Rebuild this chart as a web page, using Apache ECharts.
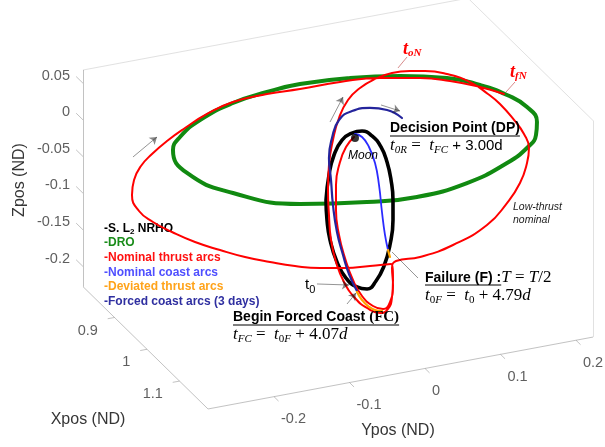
<!DOCTYPE html>
<html><head><meta charset="utf-8">
<script src="https://cdn.jsdelivr.net/npm/echarts@6/dist/echarts.min.js"></script>
<style>html,body{margin:0;padding:0;background:#fff}#c{width:605px;height:447px}</style>
</head><body><div id="c"></div>
<script>
// ---- axis limits and ticks (ND) ----
const xLim = [0.803, 1.1877];
const yLim = [-0.2874, 0.2225];
const zLim = [-0.2275, 0.068];
const xTicks = [0.9, 1, 1.1];
const yTicks = [-0.2, -0.1, 0, 0.1, 0.2];
const zTicks = [0.05, 0, -0.05, -0.1, -0.15, -0.2];

// ---- trajectories: [Ypos, Zpos] read in the Xpos = 1 plane ----
const nrho = [[-0.0503,-0.0694],[-0.0464,-0.0361],[-0.0397,-0.0101],[-0.0291,0.0083],[-0.0159,0.0153],[-0.0026,0.0155],[0.0106,0.0062],[0.0225,-0.0111],[0.0305,-0.0332],[0.0358,-0.0587],[0.0384,-0.0865],[0.0384,-0.1138],[0.0344,-0.1471],[0.0265,-0.1743],[0.0159,-0.1927],[0.0040,-0.2013],[-0.0093,-0.1960],[-0.0238,-0.1810],[-0.0358,-0.1568],[-0.0450,-0.1250],[-0.0490,-0.0970],[-0.0503,-0.0694]];
const dro = [[-0.0185,0.0909],[0.0477,0.0809],[0.1099,0.0662],[0.1536,0.0482],[0.1894,0.0277],[0.2159,0.0062],[0.2291,-0.0168],[0.2278,-0.0343],[0.2172,-0.0486],[0.1894,-0.0651],[0.1364,-0.0822],[0.0702,-0.0885],[0.0040,-0.0826],[-0.0848,-0.0683],[-0.1735,-0.0362],[-0.2344,0.0028],[-0.2530,0.0377],[-0.2437,0.0537],[-0.2172,0.0718],[-0.1735,0.0866],[-0.1285,0.0929],[-0.0848,0.0954],[-0.0185,0.0909]];
const nominalThrust = [[-0.0132,0.0094],[-0.0238,-0.0022],[-0.0318,-0.0212],[-0.0371,-0.0515],[-0.0371,-0.0856],[-0.0331,-0.1205],[-0.0252,-0.1534],[-0.0146,-0.1855],[-0.0026,-0.2096],[0.0119,-0.2260],[0.0252,-0.2327],[0.0344,-0.2249],[0.0384,-0.2025],[0.0371,-0.1790],[0.0424,-0.1705],[0.0742,-0.1712],[0.1179,-0.1632],[0.1629,-0.1446],[0.1894,-0.1197],[0.2066,-0.0957],[0.2159,-0.0702],[0.2185,-0.0502],[0.2119,-0.0298],[0.1987,-0.0082],[0.1801,0.0172],[0.1642,0.0339],[0.1404,0.0548],[0.1099,0.0716],[0.0808,0.0813],[0.0609,0.0851],[0.0371,0.0870],[0.0146,0.0832],[-0.0053,0.0747],[-0.0212,0.0614],[-0.0331,0.0391],[-0.0411,0.0106],[-0.0464,-0.0225],[-0.0477,-0.0563],[-0.0464,-0.0907],[-0.0437,-0.1253],[-0.0371,-0.1566],[-0.0265,-0.1859],[-0.0119,-0.2105],[0.0040,-0.2272],[0.0212,-0.2374],[0.0318,-0.2339],[0.0371,-0.2186],[0.0384,-0.1957],[0.0358,-0.1733],[0.0079,-0.1707],[-0.0252,-0.1671],[-0.0583,-0.1607],[-0.0914,-0.1516],[-0.1245,-0.1398],[-0.1576,-0.1266],[-0.1907,-0.1107],[-0.2238,-0.0934],[-0.2543,-0.0739],[-0.2795,-0.0554],[-0.2980,-0.0368],[-0.3073,-0.0132],[-0.3046,0.0068],[-0.2954,0.0241],[-0.2808,0.0376],[-0.2609,0.0516],[-0.2371,0.0647],[-0.2079,0.0782],[-0.1735,0.0879],[-0.1285,0.0902],[-0.0848,0.0886],[-0.0318,0.0880],[0.0212,0.0832],[0.0742,0.0730],[0.1139,0.0613],[0.1536,0.0455],[0.1854,0.0298]];
const nominalCoast = [[-0.0119,0.0132],[-0.0026,0.0073],[0.0066,-0.0081],[0.0146,-0.0314],[0.0199,-0.0625],[0.0238,-0.1001],[0.0278,-0.1322],[0.0318,-0.1535]];
const deviatedA = [[0.0318,-0.1535],[0.0344,-0.1635]];
const deviatedB = [[-0.0093,-0.2028],[-0.0026,-0.2150],[0.0053,-0.2248],[0.0146,-0.2320],[0.0238,-0.2351]];
const forcedCoast = [[-0.0093,-0.2015],[-0.0199,-0.1763],[-0.0278,-0.1488],[-0.0358,-0.1159],[-0.0411,-0.0780],[-0.0437,-0.0434],[-0.0464,-0.0129],[-0.0424,0.0136],[-0.0331,0.0364],[-0.0159,0.0453],[0.0079,0.0449],[0.0305,0.0378],[0.0503,0.0231]];
const moon = [[-0.0119,0.0077]];

// annotation arrows [from, to] as [Ypos, Zpos] in the same plane
const dirArrows = [[[-0.3060,0.0384],[-0.2742,0.0596]],[[-0.0450,0.0359],[-0.0278,0.0667]],[[0.0225,0.0462],[0.0477,0.0331]],[[-0.0623,-0.1817],[-0.0199,-0.1913]],[[-0.0225,-0.2167],[-0.0106,-0.2040]]];
const failureLeader = [[[0.0715,-0.1993],[0.0371,-0.1572]]];
const redLeaders = [[[0.0570,0.1050],[0.0450,0.0923]],[[0.2000,0.0434],[0.1881,0.0320]]];

// ---- view projection (azimuth/elevation of the 3-D axes) ----
const view = {ox:364, oy:142, ex:[325,318], ey:[755,-141], ez:[0,-733]};
function P(x,y,z){
  return [view.ox + (x-1)*view.ex[0] + y*view.ey[0] + z*view.ez[0],
          view.oy + (x-1)*view.ex[1] + y*view.ey[1] + z*view.ez[1]];
}
const X0 = 1;
const plane = arr => arr.map(([y,z]) => P(X0,y,z));
const segs = arr => arr.map(s => ({coords: plane(s)}));

const [x0,x1] = xLim, [y0,y1] = yLim, [z0,z1] = zLim;
const axisSegs = [[P(x0,y0,z0),P(x0,y0,z1)],[P(x0,y0,z0),P(x1,y0,z0)],[P(x1,y0,z0),P(x1,y1,z0)]];
const boxSegs = [[P(x1,y1,z0),P(x1,y1,z1)],[P(x0,y0,z1),P(x0,y1,z1)],[P(x1,y1,z1),P(x0,y1,z1)]];
const tickSegs = [].concat(
  zTicks.map(z => [P(x0,y0,z), P(x0-0.021,y0,z)]),
  xTicks.map(x => [P(x,y0,z0), P(x,y0-0.009,z0)]),
  yTicks.map(y => [P(x1,y,z0), P(x1+0.014,y,z0)])
);
const zLab = zTicks.map(z => ({value:P(x0-0.04,y0,z), name:String(z)}));
const xLab = xTicks.map(x => ({value:P(x,y0-0.022,z0), name:String(x)}));
const yLab = yTicks.map(y => ({value:P(x1+0.0215,y,z0), name:String(y)}));

const SANS = '"Liberation Sans", Arial, Helvetica, sans-serif';
const SERIF = '"Liberation Serif", "Times New Roman", serif';
const TICKC = '#363636';

function tickLabels(data, align, offset){
  return {type:'scatter', data, symbolSize:0, silent:true, z:5,
    label:{show:true, position:'inside', formatter:'{b}', align, verticalAlign:'middle', offset,
      fontFamily:SANS, fontSize:14.5, color:TICKC}};
}
function curve(name, data, color, width, z){
  return {type:'line', name, data:plane(data), symbol:'none', smooth:0.5, z, silent:true,
    lineStyle:{color, width, cap:'round', join:'round'}, itemStyle:{color}};
}
const C = {black:'#000000', green:'#118a11', red:'#ff0000', blue:'#2b2bff', orange:'#ffa500', navy:'#24249c'};

const meas = document.createElement('canvas').getContext('2d');
function tw(font, s){ meas.font = font; return meas.measureText(s).width; }
const BOLD14 = 'bold 14px ' + SANS;

const mathRich = {
  m:{fontFamily:SERIF, fontStyle:'italic', fontSize:17, lineHeight:20, verticalAlign:'middle', fill:'#000', color:'#000'},
  r:{fontFamily:SERIF, fontSize:17, lineHeight:20, verticalAlign:'middle', fill:'#000', color:'#000'},
  sb:{fontFamily:SERIF, fontStyle:'italic', fontSize:11, lineHeight:13, verticalAlign:'bottom', fill:'#000', color:'#000'},
  sr:{fontFamily:SERIF, fontSize:11, lineHeight:13, verticalAlign:'bottom', fill:'#000', color:'#000'},
  n:{fontFamily:SANS, fontSize:15, lineHeight:20, verticalAlign:'middle', fill:'#000', color:'#000'},
  b:{fontFamily:SANS, fontWeight:'bold', fontSize:14, lineHeight:20, verticalAlign:'middle', fill:'#000', color:'#000'},
  bs:{fontFamily:SERIF, fontWeight:'bold', fontSize:15, lineHeight:20, verticalAlign:'middle', fill:'#000', color:'#000'}
};
function txt(x, y, text, extra, rot){
  const g = {type:'text', x, y, silent:true, z:100,
    style:Object.assign({text, align:'left', verticalAlign:'middle', rich:mathRich, fill:'#000', font:'14px '+SANS}, extra||{})};
  if (rot) g.rotation = rot;
  return g;
}
function uline(x, y, w){
  return {type:'line', silent:true, z:100, shape:{x1:x, y1:y, x2:x+w, y2:y}, style:{stroke:'#000', lineWidth:1.2}};
}

const wDP = tw(BOLD14, 'Decision Point (DP)');
const wF = tw(BOLD14, 'Failure (F) :');
const wFC = tw(BOLD14, 'Begin Forced Coast ') + tw('bold 15px ' + SERIF, '(FC)');

const redRich = {
  T:{fontFamily:SERIF, fontStyle:'italic', fontWeight:'bold', fontSize:18, lineHeight:20, verticalAlign:'middle', fill:'#ff0000'},
  S:{fontFamily:SERIF, fontStyle:'italic', fontWeight:'bold', fontSize:11, lineHeight:12, verticalAlign:'bottom', fill:'#ff0000'}
};

const option = {
  animation:false,
  backgroundColor:'#ffffff',
  grid:{left:0, right:0, top:0, bottom:0},
  xAxis:{type:'value', min:0, max:605, show:false},
  yAxis:{type:'value', min:0, max:447, inverse:true, show:false},
  legend:{
    orient:'vertical', left:94, top:216, itemWidth:0, itemHeight:14.6, itemGap:0, icon:'rect',
    selectedMode:false,
    formatter: n => n === '-S. L2 NRHO' ? '{a|-S. L}{s|2}{a| NRHO}' : n,
    textStyle:{fontFamily:SANS, fontWeight:'bold', fontSize:12,
      rich:{a:{fontFamily:SANS, fontWeight:'bold', fontSize:12, lineHeight:15, verticalAlign:'middle'},
            s:{fontFamily:SANS, fontWeight:'bold', fontSize:8, lineHeight:10, verticalAlign:'bottom'}}},
    data:[
      {name:'-S. L2 NRHO', textStyle:{color:'#000000'}},
      {name:'-DRO', textStyle:{color:'#1a8c1a'}},
      {name:'-Nominal thrust arcs', textStyle:{color:'#ff1010'}},
      {name:'-Nominal coast arcs', textStyle:{color:'#4f4fff'}},
      {name:'-Deviated thrust arcs', textStyle:{color:'#ffa31a'}},
      {name:'-Forced coast arcs (3 days)', textStyle:{color:'#2f2fa0'}}
    ]
  },
  series:[
    {type:'lines', coordinateSystem:'cartesian2d', silent:true, z:1, data:boxSegs.map(c=>({coords:c})), lineStyle:{color:'#c4c4c4', width:1}},
    {type:'lines', coordinateSystem:'cartesian2d', silent:true, z:1, data:axisSegs.map(c=>({coords:c})), lineStyle:{color:'#858585', width:1}},
    {type:'lines', coordinateSystem:'cartesian2d', silent:true, z:1, data:tickSegs.map(c=>({coords:c})), lineStyle:{color:'#858585', width:1}},
    tickLabels(zLab, 'right', [0,5]),
    tickLabels(xLab, 'right', [0,10]),
    tickLabels(yLab, 'left', [0,15.5]),
    curve('-DRO', dro, C.green, 4, 10),
    curve('-S. L2 NRHO', nrho, C.black, 3.6, 11),
    curve('-Nominal thrust arcs', nominalThrust, C.red, 2, 12),
    curve('-Nominal coast arcs', nominalCoast, C.blue, 1.8, 13),
    curve('-Forced coast arcs (3 days)', forcedCoast, C.navy, 2.2, 14),
    curve('-Deviated thrust arcs', deviatedA, C.orange, 2.2, 15),
    curve('-Deviated thrust arcs', deviatedB, C.orange, 2.2, 15),
    {type:'scatter', data:plane(moon), symbolSize:8, itemStyle:{color:'#000'}, z:16, silent:true},
    {type:'lines', coordinateSystem:'cartesian2d', silent:true, z:20, data:segs(dirArrows),
      symbol:['none','arrow'], symbolSize:7, lineStyle:{color:'#111', width:0.9}},
    {type:'lines', coordinateSystem:'cartesian2d', silent:true, z:20, data:segs(failureLeader),
      lineStyle:{color:'#111', width:0.9}},
    {type:'lines', coordinateSystem:'cartesian2d', silent:true, z:20, data:segs(redLeaders),
      lineStyle:{color:'#b01818', width:1}}
  ],
  graphic:[
    txt(20, 180, 'Zpos (ND)', {align:'center', font:'16px '+SANS, fill:TICKC}, Math.PI/2),
    txt(88, 420, 'Xpos (ND)', {align:'center', font:'16px '+SANS, fill:TICKC}),
    txt(398, 431, 'Ypos (ND)', {align:'center', font:'16px '+SANS, fill:TICKC}),
    txt(390, 128, 'Decision Point (DP)', {font:BOLD14}),
    uline(390, 136, wDP),
    txt(390, 146, '{m|t}{sb|0R}{r| =  }{m|t}{sb|FC}{n| + 3.00d}'),
    txt(363, 156, 'Moon', {align:'center', font:'italic 12px '+SANS}),
    txt(513, 207, 'Low-thrust', {font:'italic 10.5px '+SANS, fill:'#222'}),
    txt(513, 220, 'nominal', {font:'italic 10.5px '+SANS, fill:'#222'}),
    txt(403, 49, '{T|t}{S|oN}', {rich:redRich}),
    txt(510, 72, '{T|t}{S|fN}', {rich:redRich}),
    txt(425, 278, '{b|Failure (F) :}{m|T}{r| = }{m|T}{r|/2}'),
    uline(425, 285, wF),
    txt(425, 296, '{m|t}{sr|0}{sb|F}{r| =  }{m|t}{sr|0}{r| + 4.79}{m|d}'),
    txt(233, 317, '{b|Begin Forced Coast }{bs|(FC)}'),
    uline(233, 325, wFC),
    txt(233, 335, '{m|t}{sb|FC}{r| =  }{m|t}{sr|0}{sb|F}{r| + 4.07}{m|d}'),
    txt(305, 285, '{n|t}{s0|0}', {rich:{
      n:{fontFamily:SANS, fontSize:15, lineHeight:20, verticalAlign:'middle', fill:'#000'},
      s0:{fontFamily:SANS, fontSize:11, lineHeight:13, verticalAlign:'bottom', fill:'#000'}}})
  ]
};
const chart = echarts.init(document.getElementById('c'));
chart.setOption(option);
</script>
</body></html>
